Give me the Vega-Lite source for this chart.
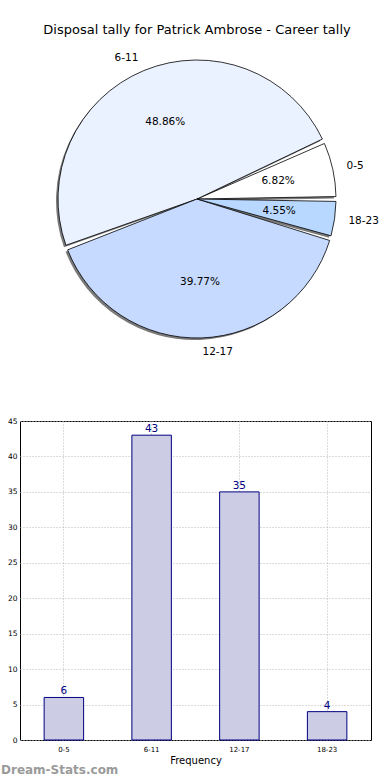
{
  "$schema": "https://vega.github.io/schema/vega-lite/v6.json",
  "autosize": {"type": "pad"},
  "padding": {"left": 0, "top": 23, "right": 0, "bottom": 0},
  "background": "white",
  "bounds": "flush",
  "spacing": 83,
  "config": {"font": "DejaVu Sans", "view": {"stroke": "black", "strokeWidth": 1}},
  "vconcat": [
    {
      "width": 354,
      "height": 278,
      "view": {"stroke": null},
      "title": {"text": "Disposal tally for Patrick Ambrose - Career tally", "fontSize": 13, "fontWeight": "normal", "font": "DejaVu Sans", "color": "black", "baseline": "bottom", "offset": 3},
      "data": {"values": [
        {"cat": "0-5", "idx": 1, "count": 6, "pct": "6.82%"},
        {"cat": "6-11", "idx": 2, "count": 43, "pct": "48.86%"},
        {"cat": "12-17", "idx": 3, "count": 35, "pct": "39.77%"},
        {"cat": "18-23", "idx": 4, "count": 4, "pct": "4.55%"}
      ]},
      "encoding": {
        "theta": {"field": "count", "type": "quantitative", "stack": true, "scale": {"range": [1.5707963, 7.8539816]}},
        "order": {"field": "idx", "type": "quantitative", "sort": "descending"}
      },
      "layer": [
        {"mark": {"type": "arc", "outerRadius": 139, "padAngle": 0.035, "fill": "#7a7a7a", "xOffset": -2, "yOffset": 2}},
        {"mark": {"type": "arc", "outerRadius": 139, "padAngle": 0.035, "stroke": "black", "strokeWidth": 0.8},
         "encoding": {"color": {"field": "cat", "type": "nominal", "scale": {"domain": ["0-5", "6-11", "12-17", "18-23"], "range": ["#FFFFFF", "#EAF1FF", "#C6DAFF", "#B8D8FF"]}, "legend": null}}},
        {"mark": {"type": "text", "radius": 83, "fontSize": 10.5, "color": "black"},
         "encoding": {"text": {"field": "pct", "type": "nominal"}}},
        {"mark": {"type": "text", "radius": 153, "fontSize": 10.5, "align": "left", "color": "black"},
         "encoding": {"text": {"condition": {"test": "datum.idx != 2", "field": "cat"}, "value": ""}}},
        {"mark": {"type": "text", "radius": 153, "fontSize": 10.5, "align": "right", "color": "black"},
         "encoding": {"text": {"condition": {"test": "datum.idx == 2", "field": "cat"}, "value": ""}}}
      ]
    },
    {
      "width": 351,
      "height": 319,
      "title": {"text": "Dream-Stats.com", "orient": "bottom", "anchor": "start", "frame": "group", "dx": -19, "fontSize": 12, "fontWeight": "bold", "color": "#9a9a9a", "baseline": "top", "offset": 0},
      "data": {"values": [
        {"cat": "0-5", "count": 6},
        {"cat": "6-11", "count": 43},
        {"cat": "12-17", "count": 35},
        {"cat": "18-23", "count": 4}
      ]},
      "encoding": {
        "x": {"field": "cat", "type": "nominal", "sort": ["0-5", "6-11", "12-17", "18-23"],
              "scale": {"paddingInner": 0.55, "paddingOuter": 0.275},
              "axis": {"bandPosition": 0.5, "grid": true, "gridDash": [1, 2], "gridColor": "#b8b8b8", "labelAngle": 0, "labelFontSize": 7, "labelColor": "black", "ticks": false, "domain": false, "labelPadding": 5, "title": "Frequency", "titleFontSize": 10, "titleFontWeight": "normal", "titleColor": "black", "titlePadding": 3}},
        "y": {"field": "count", "type": "quantitative", "scale": {"domain": [0, 45], "nice": false},
              "axis": {"values": [0, 5, 10, 15, 20, 25, 30, 35, 40, 45], "labelOverlap": false, "labelFontSize": 7.5, "labelColor": "black", "grid": true, "gridDash": [1, 2], "gridColor": "#b8b8b8", "domain": false, "ticks": false, "labelPadding": 3, "title": null}}
      },
      "layer": [
        {"mark": {"type": "bar", "fill": "#CCCCE5", "stroke": "#000080", "strokeWidth": 1}},
        {"mark": {"type": "text", "baseline": "bottom", "dy": -1, "color": "#000080", "fontSize": 10.5},
         "encoding": {"text": {"field": "count", "type": "quantitative"}}}
      ]
    }
  ]
}
